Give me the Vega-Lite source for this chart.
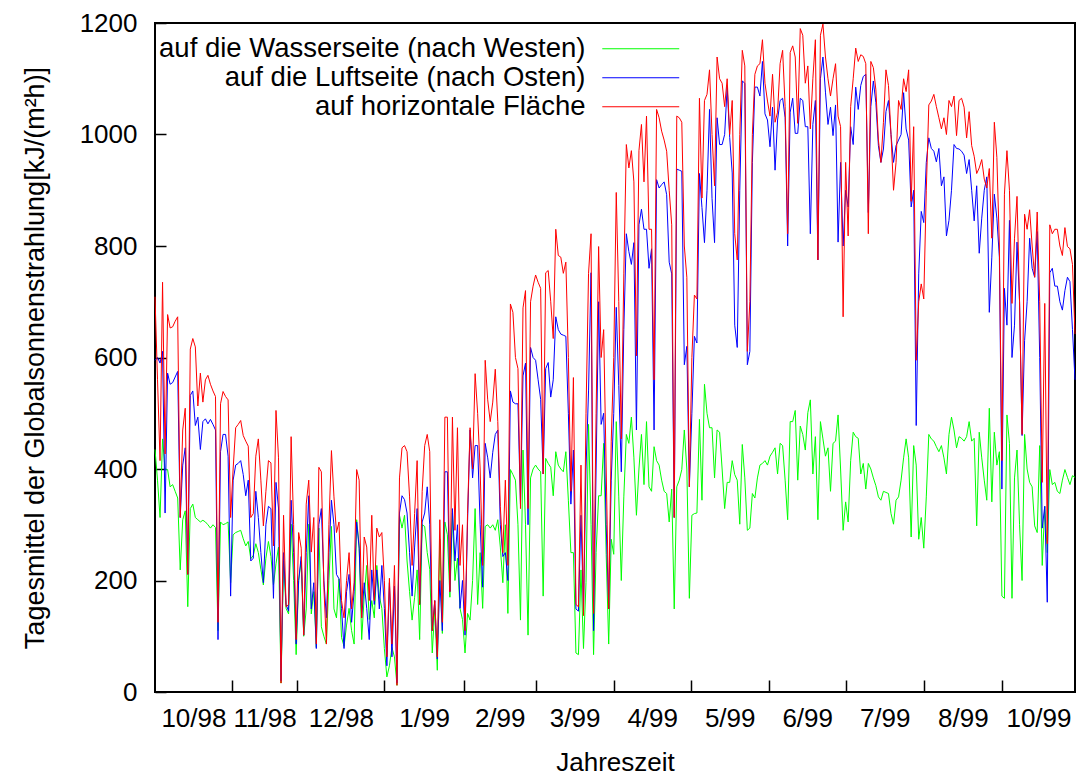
{
"$schema": "https://vega.github.io/schema/vega-lite/v6.json",
"width": 920, "height": 669,
"autosize": {"type": "none"},
"padding": {"left": 155, "top": 23, "right": 2, "bottom": 84},
"background": "white",
"config": {
 "view": {"stroke": "black", "strokeWidth": 2},
 "font": "Liberation Sans",
 "axis": {"labelFont": "Liberation Sans", "titleFont": "Liberation Sans", "labelFontSize": 26, "titleFontSize": 26, "titleFontWeight": "normal", "labelColor": "black", "titleColor": "black", "tickColor": "black", "domain": false, "grid": false}
},
"data": {"values": [
{"t":0,"w":435,"l":595,"h":709},{"t":1,"w":380,"l":600,"h":560},{"t":2,"w":313,"l":590,"h":415},{"t":3,"w":454,"l":611,"h":735},{"t":4,"w":399,"l":321,"h":427},{"t":5,"w":399,"l":572,"h":677},{"t":6,"w":368,"l":552,"h":653},{"t":7,"w":372,"l":555,"h":655},{"t":8,"w":360,"l":565,"h":665},{"t":9,"w":348,"l":575,"h":673},
{"t":10,"w":219,"l":313,"h":313},{"t":11,"w":309,"l":407,"h":470},{"t":12,"w":325,"l":438,"h":509},{"t":13,"w":153,"l":211,"h":211},{"t":14,"w":329,"l":532,"h":615},{"t":15,"w":337,"l":540,"h":634},{"t":16,"w":313,"l":478,"h":619},{"t":17,"w":309,"l":493,"h":513},{"t":18,"w":305,"l":435,"h":572},{"t":19,"w":308,"l":485,"h":520},
{"t":20,"w":305,"l":490,"h":560},{"t":21,"w":300,"l":481,"h":568},{"t":22,"w":294,"l":489,"h":552},{"t":23,"w":300,"l":480,"h":540},{"t":24,"w":295,"l":470,"h":530},{"t":25,"w":110,"l":94,"h":125},{"t":26,"w":305,"l":431,"h":517},{"t":27,"w":300,"l":462,"h":539},{"t":28,"w":302,"l":462,"h":530},{"t":29,"w":305,"l":423,"h":524},
{"t":30,"w":196,"l":172,"h":313},{"t":31,"w":282,"l":380,"h":400},{"t":32,"w":286,"l":407,"h":474},{"t":33,"w":288,"l":410,"h":480},{"t":34,"w":290,"l":415,"h":487},{"t":35,"w":275,"l":390,"h":460},{"t":36,"w":262,"l":352,"h":450},{"t":37,"w":270,"l":380,"h":441},{"t":38,"w":239,"l":235,"h":313},{"t":39,"w":245,"l":240,"h":320},
{"t":40,"w":266,"l":360,"h":423},{"t":41,"w":250,"l":313,"h":454},{"t":42,"w":220,"l":250,"h":380},{"t":43,"w":192,"l":196,"h":298},{"t":44,"w":240,"l":300,"h":360},{"t":45,"w":270,"l":333,"h":415},{"t":46,"w":243,"l":329,"h":411},{"t":47,"w":192,"l":168,"h":262},{"t":48,"w":230,"l":376,"h":505},{"t":49,"w":260,"l":330,"h":420},
{"t":50,"w":16,"l":20,"h":16},{"t":51,"w":235,"l":250,"h":317},{"t":52,"w":150,"l":157,"h":153},{"t":53,"w":140,"l":145,"h":157},{"t":54,"w":301,"l":344,"h":458},{"t":55,"w":200,"l":250,"h":300},{"t":56,"w":67,"l":86,"h":94},{"t":57,"w":200,"l":200,"h":286},{"t":58,"w":235,"l":243,"h":258},{"t":59,"w":100,"l":102,"h":102},
{"t":60,"w":149,"l":250,"h":337},{"t":61,"w":301,"l":352,"h":380},{"t":62,"w":140,"l":149,"h":251},{"t":63,"w":180,"l":196,"h":313},{"t":64,"w":80,"l":78,"h":86},{"t":65,"w":294,"l":300,"h":403},{"t":66,"w":117,"l":329,"h":395},{"t":67,"w":100,"l":200,"h":188},{"t":68,"w":86,"l":133,"h":86},{"t":69,"w":200,"l":250,"h":300},
{"t":70,"w":297,"l":344,"h":433},{"t":71,"w":149,"l":300,"h":350},{"t":72,"w":133,"l":211,"h":286},{"t":73,"w":203,"l":203,"h":305},{"t":74,"w":98,"l":150,"h":164},{"t":75,"w":82,"l":78,"h":133},{"t":76,"w":120,"l":180,"h":200},{"t":77,"w":150,"l":211,"h":250},{"t":78,"w":110,"l":125,"h":149},{"t":79,"w":86,"l":180,"h":196},
{"t":80,"w":309,"l":305,"h":399},{"t":81,"w":262,"l":258,"h":380},{"t":82,"w":94,"l":133,"h":133},{"t":83,"w":172,"l":196,"h":278},{"t":84,"w":227,"l":150,"h":260},{"t":85,"w":130,"l":94,"h":164},{"t":86,"w":164,"l":219,"h":317},{"t":87,"w":133,"l":157,"h":164},{"t":88,"w":227,"l":219,"h":294},{"t":89,"w":172,"l":149,"h":278},
{"t":90,"w":150,"l":227,"h":286},{"t":91,"w":78,"l":150,"h":200},{"t":92,"w":27,"l":47,"h":63},{"t":93,"w":47,"l":196,"h":204},{"t":94,"w":80,"l":63,"h":86},{"t":95,"w":63,"l":190,"h":227},{"t":96,"w":12,"l":16,"h":12},{"t":97,"w":317,"l":321,"h":384},{"t":98,"w":294,"l":352,"h":438},{"t":99,"w":317,"l":345,"h":442},
{"t":100,"w":235,"l":321,"h":431},{"t":101,"w":180,"l":250,"h":350},{"t":102,"w":129,"l":172,"h":227},{"t":103,"w":170,"l":260,"h":320},{"t":104,"w":219,"l":329,"h":415},{"t":105,"w":94,"l":157,"h":157},{"t":106,"w":300,"l":305,"h":360},{"t":107,"w":297,"l":321,"h":442},{"t":108,"w":250,"l":368,"h":462},{"t":109,"w":220,"l":300,"h":431},
{"t":110,"w":70,"l":110,"h":110},{"t":111,"w":150,"l":164,"h":164},{"t":112,"w":39,"l":59,"h":63},{"t":113,"w":274,"l":200,"h":309},{"t":114,"w":105,"l":110,"h":125},{"t":115,"w":305,"l":395,"h":493},{"t":116,"w":282,"l":395,"h":493},{"t":117,"w":170,"l":180,"h":180},{"t":118,"w":321,"l":329,"h":493},{"t":119,"w":200,"l":235,"h":290},
{"t":120,"w":240,"l":300,"h":474},{"t":121,"w":150,"l":150,"h":227},{"t":122,"w":130,"l":200,"h":300},{"t":123,"w":70,"l":102,"h":110},{"t":124,"w":141,"l":305,"h":320},{"t":125,"w":129,"l":470,"h":474},{"t":126,"w":200,"l":384,"h":400},{"t":127,"w":329,"l":442,"h":571},{"t":128,"w":157,"l":442,"h":500},{"t":129,"w":250,"l":300,"h":400},
{"t":130,"w":150,"l":188,"h":227},{"t":131,"w":297,"l":446,"h":595},{"t":132,"w":300,"l":420,"h":524},{"t":133,"w":294,"l":384,"h":485},{"t":134,"w":300,"l":430,"h":520},{"t":135,"w":290,"l":462,"h":579},{"t":136,"w":309,"l":470,"h":485},{"t":137,"w":260,"l":300,"h":333},{"t":138,"w":196,"l":243,"h":250},{"t":139,"w":300,"l":250,"h":380},
{"t":140,"w":141,"l":200,"h":227},{"t":141,"w":399,"l":540,"h":696},{"t":142,"w":390,"l":520,"h":681},{"t":143,"w":380,"l":517,"h":600},{"t":144,"w":300,"l":517,"h":580},{"t":145,"w":129,"l":337,"h":329},{"t":146,"w":434,"l":567,"h":689},{"t":147,"w":300,"l":590,"h":720},{"t":148,"w":102,"l":300,"h":329},{"t":149,"w":384,"l":618,"h":700},
{"t":150,"w":400,"l":600,"h":728},{"t":151,"w":407,"l":595,"h":748},{"t":152,"w":400,"l":560,"h":735},{"t":153,"w":395,"l":525,"h":724},{"t":154,"w":172,"l":391,"h":391},{"t":155,"w":419,"l":580,"h":752},{"t":156,"w":410,"l":591,"h":756},{"t":157,"w":403,"l":529,"h":700},{"t":158,"w":352,"l":560,"h":634},{"t":159,"w":431,"l":673,"h":830},
{"t":160,"w":407,"l":650,"h":783},{"t":161,"w":400,"l":642,"h":780},{"t":162,"w":395,"l":640,"h":751},{"t":163,"w":431,"l":638,"h":771},{"t":164,"w":344,"l":500,"h":600},{"t":165,"w":250,"l":337,"h":360},{"t":166,"w":250,"l":434,"h":564},{"t":167,"w":70,"l":149,"h":157},{"t":168,"w":67,"l":145,"h":153},{"t":169,"w":219,"l":317,"h":407},
{"t":170,"w":78,"l":145,"h":137},{"t":171,"w":196,"l":400,"h":500},{"t":172,"w":480,"l":540,"h":751},{"t":173,"w":300,"l":752,"h":822},{"t":174,"w":67,"l":110,"h":141},{"t":175,"w":250,"l":400,"h":500},{"t":176,"w":352,"l":700,"h":799},{"t":177,"w":352,"l":480,"h":600},{"t":178,"w":446,"l":500,"h":650},{"t":179,"w":247,"l":300,"h":400},
{"t":180,"w":86,"l":149,"h":149},{"t":181,"w":274,"l":380,"h":450},{"t":182,"w":247,"l":500,"h":600},{"t":183,"w":485,"l":690,"h":896},{"t":184,"w":350,"l":550,"h":700},{"t":185,"w":200,"l":395,"h":454},{"t":186,"w":350,"l":650,"h":750},{"t":187,"w":462,"l":822,"h":982},{"t":188,"w":446,"l":790,"h":940},{"t":189,"w":493,"l":767,"h":971},
{"t":190,"w":420,"l":806,"h":915},{"t":191,"w":317,"l":470,"h":603},{"t":192,"w":400,"l":838,"h":971},{"t":193,"w":462,"l":866,"h":1018},{"t":194,"w":372,"l":830,"h":915},{"t":195,"w":485,"l":830,"h":1033},{"t":196,"w":368,"l":760,"h":830},{"t":197,"w":360,"l":795,"h":830},{"t":198,"w":440,"l":470,"h":560},{"t":199,"w":415,"l":919,"h":1045},
{"t":200,"w":407,"l":904,"h":1030},{"t":201,"w":380,"l":910,"h":1006},{"t":202,"w":360,"l":915,"h":990},{"t":203,"w":356,"l":892,"h":970},{"t":204,"w":305,"l":771,"h":900},{"t":205,"w":364,"l":750,"h":838},{"t":206,"w":149,"l":313,"h":313},{"t":207,"w":368,"l":938,"h":1033},{"t":208,"w":380,"l":936,"h":1030},{"t":209,"w":399,"l":934,"h":1022},
{"t":210,"w":470,"l":587,"h":800},{"t":211,"w":400,"l":620,"h":744},{"t":212,"w":168,"l":368,"h":368},{"t":213,"w":317,"l":500,"h":600},{"t":214,"w":320,"l":638,"h":712},{"t":215,"w":321,"l":626,"h":705},{"t":216,"w":489,"l":930,"h":1065},{"t":217,"w":344,"l":869,"h":886},{"t":218,"w":552,"l":806,"h":1061},{"t":219,"w":500,"l":900,"h":1072},
{"t":220,"w":474,"l":1045,"h":1116},{"t":221,"w":474,"l":885,"h":1000},{"t":222,"w":384,"l":806,"h":908},{"t":223,"w":470,"l":1030,"h":1139},{"t":224,"w":466,"l":982,"h":1100},{"t":225,"w":400,"l":982,"h":1092},{"t":226,"w":329,"l":1000,"h":1050},{"t":227,"w":376,"l":1085,"h":1100},{"t":228,"w":376,"l":995,"h":1000},{"t":229,"w":415,"l":931,"h":1061},
{"t":230,"w":390,"l":658,"h":822},{"t":231,"w":380,"l":618,"h":775},{"t":232,"w":301,"l":900,"h":1000},{"t":233,"w":444,"l":1096,"h":1151},{"t":234,"w":384,"l":1092,"h":1123},{"t":235,"w":290,"l":587,"h":611},{"t":236,"w":294,"l":611,"h":700},{"t":237,"w":356,"l":950,"h":1000},{"t":238,"w":348,"l":1085,"h":1108},{"t":239,"w":384,"l":1085,"h":1123},
{"t":240,"w":407,"l":1069,"h":1127},{"t":241,"w":410,"l":1131,"h":1170},{"t":242,"w":415,"l":1037,"h":1092},{"t":243,"w":407,"l":1026,"h":1060},{"t":244,"w":423,"l":978,"h":1033},{"t":245,"w":430,"l":1049,"h":1108},{"t":246,"w":438,"l":936,"h":1022},{"t":247,"w":391,"l":1026,"h":1040},{"t":248,"w":446,"l":1061,"h":1127},{"t":249,"w":442,"l":1065,"h":1151},
{"t":250,"w":380,"l":1030,"h":1050},{"t":251,"w":309,"l":800,"h":822},{"t":252,"w":485,"l":1040,"h":1147},{"t":253,"w":485,"l":1065,"h":1159},{"t":254,"w":505,"l":1002,"h":1139},{"t":255,"w":380,"l":1002,"h":1020},{"t":256,"w":477,"l":1065,"h":1190},{"t":257,"w":462,"l":1061,"h":1178},{"t":258,"w":434,"l":1014,"h":1092},{"t":259,"w":501,"l":1014,"h":1123},
{"t":260,"w":524,"l":822,"h":1010},{"t":261,"w":391,"l":1018,"h":1100},{"t":262,"w":458,"l":1061,"h":1170},{"t":263,"w":309,"l":775,"h":775},{"t":264,"w":485,"l":1100,"h":1178},{"t":265,"w":454,"l":1139,"h":1198},{"t":266,"w":423,"l":1076,"h":1139},{"t":267,"w":438,"l":1018,"h":1100},{"t":268,"w":360,"l":1049,"h":1069},{"t":269,"w":446,"l":998,"h":1100},
{"t":270,"w":450,"l":1053,"h":1127},{"t":271,"w":497,"l":807,"h":1033},{"t":272,"w":400,"l":950,"h":1014},{"t":273,"w":290,"l":800,"h":673},{"t":274,"w":341,"l":900,"h":950},{"t":275,"w":305,"l":870,"h":818},{"t":276,"w":415,"l":1014,"h":1050},{"t":277,"w":466,"l":982,"h":1100},{"t":278,"w":458,"l":1085,"h":1155},{"t":279,"w":455,"l":1045,"h":1131},
{"t":280,"w":391,"l":1088,"h":1143},{"t":281,"w":410,"l":1104,"h":1140},{"t":282,"w":364,"l":1108,"h":1127},{"t":283,"w":410,"l":860,"h":822},{"t":284,"w":400,"l":1050,"h":1131},{"t":285,"w":384,"l":1096,"h":1120},{"t":286,"w":370,"l":1057,"h":1080},{"t":287,"w":350,"l":980,"h":990},{"t":288,"w":344,"l":950,"h":950},{"t":289,"w":360,"l":974,"h":1022},
{"t":290,"w":358,"l":1041,"h":1116},{"t":291,"w":356,"l":1061,"h":1088},{"t":292,"w":320,"l":1000,"h":1000},{"t":293,"w":301,"l":950,"h":900},{"t":294,"w":344,"l":980,"h":950},{"t":295,"w":350,"l":990,"h":1061},{"t":296,"w":380,"l":1000,"h":1045},{"t":297,"w":420,"l":1075,"h":1100},{"t":298,"w":454,"l":1010,"h":1077},{"t":299,"w":420,"l":990,"h":1116},
{"t":300,"w":278,"l":870,"h":880},{"t":301,"w":442,"l":900,"h":1014},{"t":302,"w":407,"l":478,"h":595},{"t":303,"w":274,"l":750,"h":700},{"t":304,"w":313,"l":862,"h":732},{"t":305,"w":258,"l":842,"h":705},{"t":306,"w":350,"l":950,"h":900},{"t":307,"w":462,"l":994,"h":1053},{"t":308,"w":454,"l":975,"h":1060},{"t":309,"w":450,"l":970,"h":1072},
{"t":310,"w":440,"l":951,"h":1050},{"t":311,"w":431,"l":975,"h":1030},{"t":312,"w":442,"l":908,"h":1010},{"t":313,"w":420,"l":924,"h":1030},{"t":314,"w":391,"l":818,"h":1000},{"t":315,"w":462,"l":846,"h":1061},{"t":316,"w":493,"l":900,"h":1050},{"t":317,"w":470,"l":982,"h":1069},{"t":318,"w":438,"l":975,"h":998},{"t":319,"w":458,"l":974,"h":1061},
{"t":320,"w":455,"l":970,"h":1065},{"t":321,"w":450,"l":963,"h":1049},{"t":322,"w":458,"l":930,"h":994},{"t":323,"w":485,"l":955,"h":1041},{"t":324,"w":450,"l":900,"h":980},{"t":325,"w":455,"l":845,"h":961},{"t":326,"w":298,"l":908,"h":930},{"t":327,"w":466,"l":787,"h":940},{"t":328,"w":420,"l":850,"h":955},{"t":329,"w":380,"l":900,"h":920},
{"t":330,"w":344,"l":924,"h":904},{"t":331,"w":509,"l":681,"h":939},{"t":332,"w":341,"l":780,"h":814},{"t":333,"w":466,"l":893,"h":1022},{"t":334,"w":407,"l":850,"h":959},{"t":335,"w":431,"l":780,"h":800},{"t":336,"w":172,"l":364,"h":415},{"t":337,"w":168,"l":724,"h":893},{"t":338,"w":497,"l":658,"h":971},{"t":339,"w":446,"l":846,"h":900},
{"t":340,"w":168,"l":600,"h":697},{"t":341,"w":384,"l":658,"h":814},{"t":342,"w":434,"l":807,"h":889},{"t":343,"w":300,"l":700,"h":700},{"t":344,"w":200,"l":460,"h":462},{"t":345,"w":462,"l":630,"h":857},{"t":346,"w":400,"l":700,"h":830},{"t":347,"w":376,"l":814,"h":865},{"t":348,"w":368,"l":760,"h":800},{"t":349,"w":298,"l":744,"h":744},
{"t":350,"w":286,"l":826,"h":861},{"t":351,"w":442,"l":600,"h":700},{"t":352,"w":227,"l":294,"h":376},{"t":353,"w":333,"l":333,"h":697},{"t":354,"w":250,"l":161,"h":266},{"t":355,"w":399,"l":752,"h":838},{"t":356,"w":372,"l":760,"h":822},{"t":357,"w":376,"l":728,"h":830},{"t":358,"w":360,"l":728,"h":830},{"t":359,"w":356,"l":700,"h":800},
{"t":360,"w":380,"l":685,"h":783},{"t":361,"w":399,"l":720,"h":833},{"t":362,"w":385,"l":744,"h":799},{"t":363,"w":372,"l":736,"h":795},{"t":364,"w":388,"l":650,"h":767},{"t":365,"w":385,"l":560,"h":642}
]},
"transform": [{"fold": ["w", "l", "h"], "as": ["key", "value"]}],
"mark": {"type": "line", "strokeWidth": 1},
"encoding": {
 "x": {"field": "t", "type": "quantitative", "title": "Jahreszeit",
  "scale": {"domain": [0, 365], "nice": false, "zero": false},
  "axis": {
   "values": [15.25, 30.5, 43.5, 56.5, 73.75, 91, 106.75, 122.5, 136.75, 151, 166.5, 182, 197.25, 212.5, 228, 243.5, 258.75, 274, 289.5, 305, 320.5, 336, 350.5],
   "labelExpr": "indexof([15.25,43.5,73.75,106.75,136.75,166.5,197.25,228,258.75,289.5,320.5,350.5], datum.value) >= 0 ? ['10/98','11/98','12/98','1/99','2/99','3/99','4/99','5/99','6/99','7/99','8/99','10/99'][indexof([15.25,43.5,73.75,106.75,136.75,166.5,197.25,228,258.75,289.5,320.5,350.5], datum.value)] : ''",
   "tickOpacity": {"condition": {"test": "indexof([15.25,43.5,73.75,106.75,136.75,166.5,197.25,228,258.75,289.5,320.5,350.5], datum.value) >= 0", "value": 0}, "value": 1},
   "tickSize": -12, "tickWidth": 1.5, "labelPadding": 25, "labelOverlap": false, "labelFlush": false, "titlePadding": 18, "titleFontSize": 26
  }
 },
 "y": {"field": "value", "type": "quantitative", "title": "Tagesmittel der Globalsonnenstrahlung[kJ/(m²h)]",
  "scale": {"domain": [0, 1200], "nice": false},
  "axis": {"values": [0, 200, 400, 600, 800, 1000, 1200], "format": "d", "tickSize": -11, "tickWidth": 1.5, "labelPadding": 29, "titlePadding": 30, "titleFontSize": 27}
 },
 "color": {"field": "key", "type": "nominal",
  "scale": {"domain": ["w", "l", "h"], "range": ["#00ff00", "#0000ff", "#ff0000"]},
  "legend": {"orient": "none", "legendX": 472, "legendY": 12, "title": null,
   "symbolType": "M-4,0H4", "symbolSize": 370, "symbolStrokeWidth": 1,
   "labelAlign": "right", "labelOffset": -69, "labelFontSize": 27.5, "labelFont": "Liberation Sans", "labelColor": "black", "labelLimit": 0, "rowPadding": 0, "padding": 0,
   "labelExpr": "datum.value == 'w' ? 'auf die Wasserseite (nach Westen)' : datum.value == 'l' ? 'auf die Luftseite (nach Osten)' : 'auf horizontale Fläche'"}
 }
}
}
